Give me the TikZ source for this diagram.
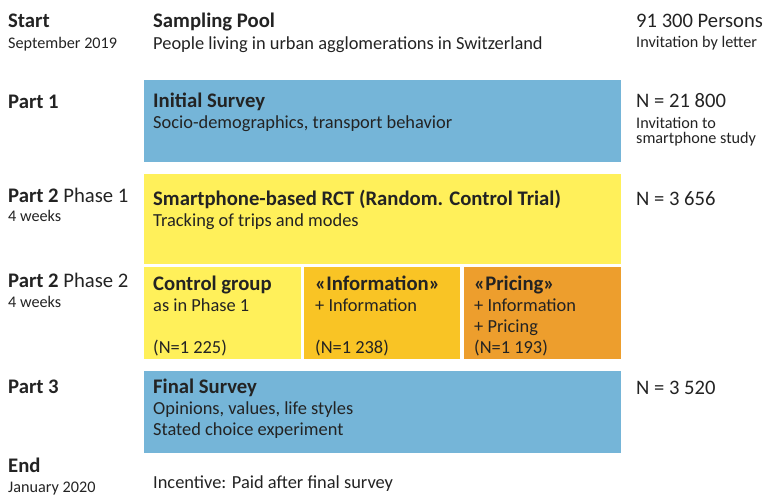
\documentclass[tikz,border=0pt]{standalone}
\usepackage{fontspec}
\setmainfont{Carlito}
\definecolor{txt}{RGB}{35,35,35}
\definecolor{cblue}{RGB}{117,181,216}
\definecolor{cyellow}{RGB}{255,240,90}
\definecolor{cinfo}{RGB}{249,196,37}
\definecolor{cprice}{RGB}{237,158,45}
\begin{document}
\begin{tikzpicture}[x=1pt,y=-1pt,
  box/.style={draw=none,anchor=north west,inner sep=0pt,minimum height=#1},
  lab/.style={anchor=base west,inner sep=0pt,text=txt},
  big/.style={lab,font=\fontsize{20.7}{24}\selectfont\bfseries},
  num/.style={lab,font=\fontsize{20.6}{24}\selectfont},
  body/.style={lab,font=\fontsize{18.4}{22}\selectfont},
  small/.style={lab,font=\fontsize{16.2}{19}\selectfont}]
\useasboundingbox (0,0) rectangle (766,500);
% boxes
\node[box=82pt,fill=cblue,minimum width=477pt] (b1) at (144,80) {};
\node[box=90pt,fill=cyellow,minimum width=477pt] (b2) at (144,174) {};
\node[box=92pt,fill=cyellow,minimum width=157pt] (b3) at (144,267) {};
\node[box=92pt,fill=cinfo,minimum width=156pt] (b4) at (304,267) {};
\node[box=92pt,fill=cprice,minimum width=157pt] (b5) at (464,267) {};
\node[box=82pt,fill=cblue,minimum width=477pt] (b6) at (144,371) {};
% left column
\node[big] (l1) at (8,28) {Start};
\node[small] (l2) at (8,49) {September 2019};
\node[big] (l3) at (8,109) {Part 1};
\node[big] (l4) at (8,202) {Part 2 \mdseries Phase 1};
\node[small] (l5) at (8,222) {4 weeks};
\node[big] (l6) at (8,287) {Part 2 \mdseries Phase 2};
\node[small] (l7) at (8,307) {4 weeks};
\node[big] (l8) at (8,393) {Part 3};
\node[big] (l9) at (8,472) {End};
\node[small] (l10) at (8,492) {January 2020};
% middle column
\node[big] (m1) at (153,28) {Sampling Pool};
\node[body] (m2) at (153,50) {People living in urban agglomerations in Switzerland};
\node[big] (m3) at (153,108) {Initial Survey};
\node[body] (m4) at (153,129) {Socio-demographics, transport behavior};
\node[big] (m5) at (153,205) {Smartphone-based RCT (Random. Control Trial)};
\node[body] (m6) at (153,226) {Tracking of trips and modes};
\node[big] (c1) at (153,290) {Control group};
\node[body] (c2) at (153,311) {as in Phase 1};
\node[body] (c3) at (153,353) {(N=1 225)};
\node[big] (i1) at (315,290) {«Information»};
\node[body] (i2) at (315,311) {+ Information};
\node[body] (i3) at (315,353) {(N=1 238)};
\node[big] (p1) at (474,290) {«Pricing»};
\node[body] (p2) at (474,311) {+ Information};
\node[body] (p3) at (474,332) {+ Pricing};
\node[body] (p4) at (474,353) {(N=1 193)};
\node[big] (f1) at (153,393) {Final Survey};
\node[body] (f2) at (153,414) {Opinions, values, life styles};
\node[body] (f3) at (153,435) {Stated choice experiment};
\node[body] (e1) at (153,488) {Incentive: Paid after final survey};
% right column
\node[num] (r1) at (636,28) {91 300 Persons};
\node[small] (r2) at (636,48) {Invitation by letter};
\node[num] (r3) at (636,108) {N = 21 800};
\node[small] (r4) at (636,129) {Invitation to};
\node[small] (r5) at (636,144) {smartphone study};
\node[num] (r6) at (636,205) {N = 3 656};
\node[num] (r7) at (636,394) {N = 3 520};
\end{tikzpicture}
\end{document}
